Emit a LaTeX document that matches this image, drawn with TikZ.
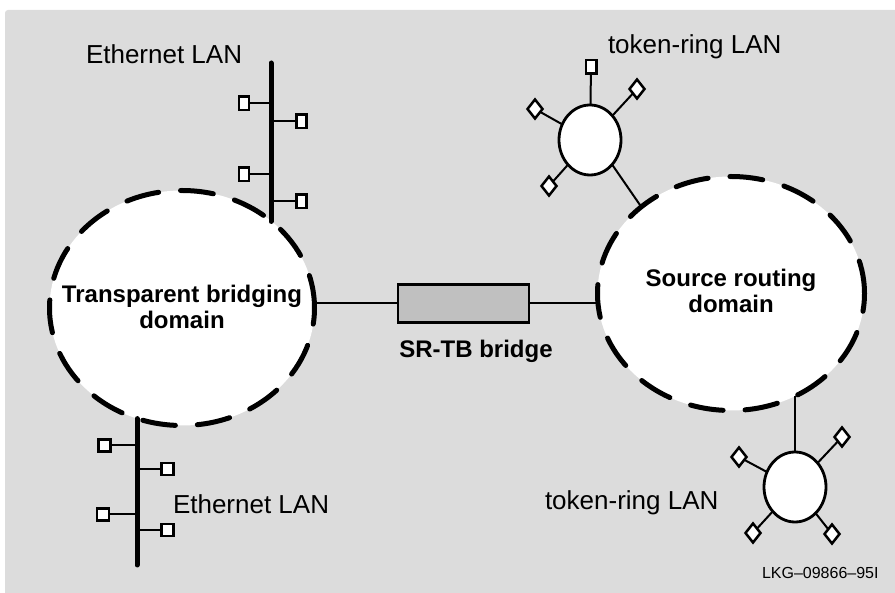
\documentclass[tikz,border=0pt]{standalone}
\usepackage{fontspec}
\setmainfont{Liberation Sans}
\usetikzlibrary{shapes.geometric}
\definecolor{panelgray}{RGB}{220,220,220}
\definecolor{bridgegray}{RGB}{192,192,192}
\begin{document}
\begin{tikzpicture}[x=1pt,y=-1pt,
  every node/.style={inner sep=0pt, outer sep=0pt},
  domainoval/.style={ellipse, draw=black, fill=white, line width=5pt,
    dash pattern=on 33pt off 22pt, line cap=round},
  domaintext/.style={font=\fontsize{24}{26}\selectfont\bfseries, align=center},
  lantext/.style={font=\fontsize{26}{30}\selectfont, anchor=base west},
  busline/.style={line width=5pt, line cap=round},
  stub/.style={line width=2pt},
  tapbox/.style={rectangle, draw, fill=white, line width=2.5pt,
    minimum width=10pt, minimum height=13.5pt},
  tapboxsq/.style={tapbox, minimum width=12pt, minimum height=12pt},
  ring/.style={ellipse, draw, fill=white, line width=2.8pt,
    minimum width=62pt, minimum height=70pt},
  ringtap/.style={diamond, draw, fill=white, line width=2.5pt,
    minimum width=15pt, minimum height=19pt},
  bridgebox/.style={rectangle, draw, fill=bridgegray, line width=2.2pt,
    minimum width=131pt, minimum height=38pt},
]
% page and grey panel
\useasboundingbox (0,0) rectangle (895,593);
\fill[panelgray, rounded corners=3pt] (5,10) rectangle (900,600);

% the two domains
\node[domainoval, minimum width=265pt, minimum height=235pt] (tbd) at (182,308) {};
\node[domainoval, minimum width=267pt, minimum height=234pt] (srd) at (731,293.5) {};
\node[domaintext] (tbdlabel) at (182,307) {Transparent bridging\\domain};
\node[domaintext] (srdlabel) at (731,291) {Source routing\\domain};

% upper Ethernet segment
\coordinate (ebusA) at (271,63);
\draw[busline] (ebusA) -- (ebusA |- tbd.44);
\node[tapbox] (ta1) at (244,103.5) {};
\node[tapbox] (ta2) at (301.5,121.5) {};
\node[tapbox] (ta3) at (244,174.5) {};
\node[tapbox] (ta4) at (301.5,201.5) {};
\foreach \t in {ta1,ta2,ta3,ta4} \draw[stub] (\t) -- (\t -| ebusA);
\node[lantext] (ethA) at (86,64) {Ethernet LAN};

% lower Ethernet segment
\coordinate (ebusB) at (137,565);
\draw[busline] (ebusB) -- (ebusB |- tbd.248);
\node[tapboxsq] (tb1) at (104.5,445.5) {};
\node[tapboxsq] (tb2) at (167.5,469) {};
\node[tapboxsq] (tb3) at (103,514.5) {};
\node[tapboxsq] (tb4) at (167.5,530) {};
\foreach \t in {tb1,tb2,tb3,tb4} \draw[stub] (\t) -- (\t -| ebusB);
\node[lantext] (ethB) at (173,514) {Ethernet LAN};

% the SR-TB bridge
\node[bridgebox] (bridge) at (463.5,303.5) {};
\draw[stub] (bridge.west) -- (bridge.west -| tbd.east);
\draw[stub] (bridge.east) -- (bridge.east -| srd.west);
\node[font=\fontsize{24}{28}\selectfont\bfseries, anchor=base] (bridgelabel) at (476,358) {SR-TB bridge};

% upper token ring
\node[ring] (ringA) at (590,140) {};
\draw[stub] (ringA.-48) -- (srd.136);
\node[tapbox, minimum width=10.5pt, minimum height=13.5pt] (ra1) at (591,67) {};
\node[ringtap] (ra2) at (637,89) {};
\node[ringtap] (ra3) at (535,109) {};
\node[ringtap] (ra4) at (549,186) {};
\foreach \t in {ra1,ra2,ra3,ra4} \draw[stub] (\t) -- (ringA);
\node[lantext] (trA) at (608,53.5) {token-ring LAN};

% lower token ring
\node[ring] (ringB) at (795,487) {};
\draw[stub] (ringB.north) -- (ringB.north |- srd.-58);
\node[ringtap] (rb1) at (739,457) {};
\node[ringtap] (rb2) at (842,437) {};
\node[ringtap] (rb3) at (753,533) {};
\node[ringtap] (rb4) at (832,534) {};
\foreach \t in {rb1,rb2,rb3,rb4} \draw[stub] (\t) -- (ringB);
\node[lantext] (trB) at (545,510) {token-ring LAN};

% figure number
\node[font=\fontsize{16}{19}\selectfont, anchor=base west] (fignum) at (762,578) {LKG–09866–95I};
\end{tikzpicture}
\end{document}
